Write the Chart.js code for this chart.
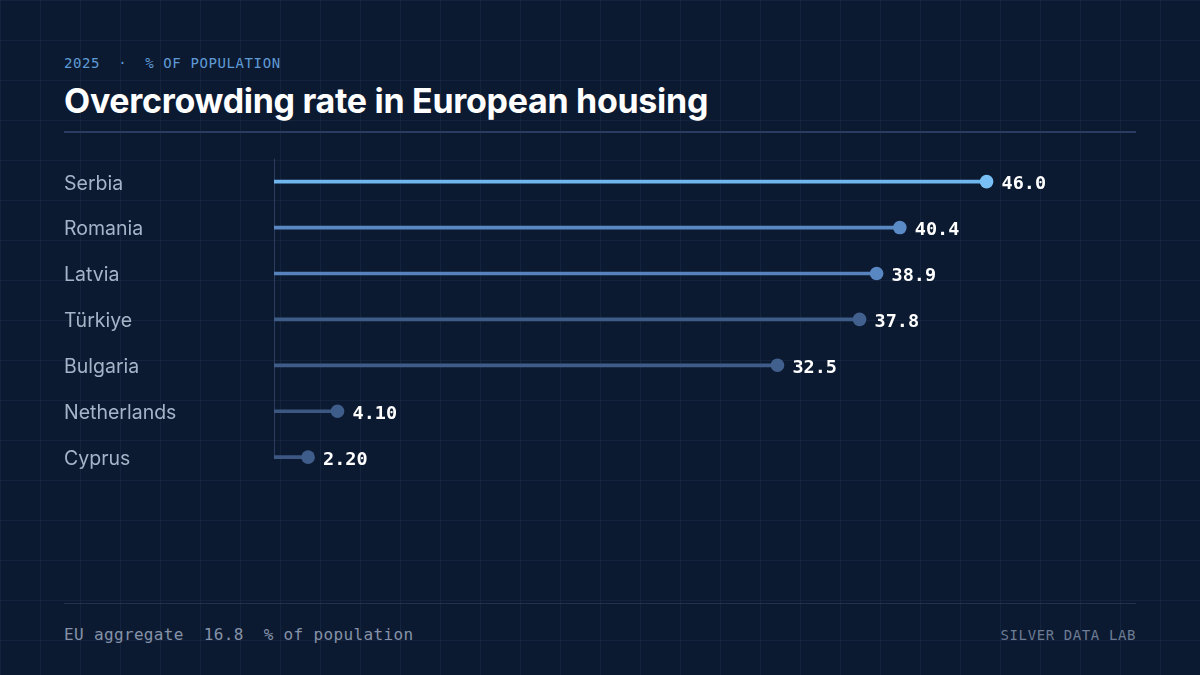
<!DOCTYPE html>
<html>
<head>
<meta charset="utf-8">
<script src="https://cdn.jsdelivr.net/npm/chart.js@4.4.1/dist/chart.umd.min.js"></script>
<style>
  html, body { margin: 0; padding: 0; }
  body {
    width: 1200px; height: 675px; overflow: hidden; position: relative;
    background-color: #0c1a31;
    background-image:
      linear-gradient(to right, rgba(40,60,95,0.28) 1px, transparent 1px),
      linear-gradient(to bottom, rgba(40,60,95,0.28) 1px, transparent 1px);
    background-size: 40px 40px;
    background-position: 0px 0px;
  }
  .sub { position: absolute; left: 64px; top: 55px; font: 14px "DejaVu Sans Mono", monospace; letter-spacing: 0.6px; color: #5f9ad6; white-space: pre; }
  .title { position: absolute; left: 64px; top: 80px; font: 700 34px Inter, sans-serif; letter-spacing: -0.3px; color: #ffffff; white-space: nowrap; }
  .rule { position: absolute; left: 64px; width: 1072px; top: 131px; height: 2px; background: #2a3d60; }
  .frule { position: absolute; left: 64px; width: 1072px; top: 603px; height: 1px; background: #22324d; }
  .foot { position: absolute; left: 64px; top: 625px; font: 16px "DejaVu Sans Mono", monospace; letter-spacing: 0.35px; color: #8592a8; white-space: pre; }
  .brand { position: absolute; right: 64px; top: 627px; font: 14px "DejaVu Sans Mono", monospace; letter-spacing: 0.6px; color: #6d7c94; white-space: pre; }
  #wrap { position: absolute; left: 64px; top: 146.6px; width: 1072px; height: 344.8px; }
</style>
</head>
<body>
<div class="sub">2025  ·  % OF POPULATION</div>
<div class="title">Overcrowding rate in European housing</div>
<div class="rule"></div>
<div id="wrap"><canvas id="c"></canvas></div>
<div class="frule"></div>
<div class="foot">EU aggregate  16.8  % of population</div>
<div class="brand">SILVER DATA LAB</div>
<script>
const categories = ["Serbia", "Romania", "Latvia", "Türkiye", "Bulgaria", "Netherlands", "Cyprus"];
const values = [46.0, 40.4, 38.9, 37.8, 32.5, 4.10, 2.20];
const lineColors = ["#6fb6ee", "#5a88c2", "#5683bd", "#3e5c88", "#3e5c88", "#3c5882", "#3c5882"];
const pointColors = ["#78bff5", "#5b8bc6", "#5887c1", "#41608e", "#41608e", "#3f5d8a", "#3f5d8a"];

const valueLabels = {
  id: 'valueLabels',
  afterDatasetsDraw(chart) {
    const ctx = chart.ctx;
    const meta = chart.getDatasetMeta(1);
    ctx.save();
    ctx.font = 'bold 18.5px "DejaVu Sans Mono", monospace';
    ctx.fillStyle = '#ffffff';
    ctx.textAlign = 'left';
    ctx.textBaseline = 'middle';
    meta.data.forEach((pt, i) => {
      ctx.fillText(values[i].toPrecision(3), pt.x + 15, pt.y + 3);
    });
    ctx.restore();
  }
};
const axisLine = {
  id: 'axisLine',
  beforeDatasetsDraw(chart) {
    const ctx = chart.ctx, x = chart.scales.x, y = chart.scales.y;
    const px = Math.round(x.getPixelForValue(0)) + 0.5;
    ctx.save();
    ctx.strokeStyle = '#2c3e5e';
    ctx.lineWidth = 1;
    ctx.beginPath();
    ctx.moveTo(px, chart.chartArea.top);
    ctx.lineTo(px, y.getPixelForValue(categories.length - 1) + 2);
    ctx.stroke();
    ctx.restore();
  }
};

new Chart(document.getElementById('c'), {
  type: 'bar',
  data: {
    labels: categories,
    datasets: [
      { type: 'bar', data: values, backgroundColor: lineColors, barThickness: 3, borderWidth: 0, order: 2 },
      { type: 'line', data: values, indexAxis: 'y', showLine: false, pointRadius: 6.8, pointHoverRadius: 6.8,
        pointBackgroundColor: pointColors, pointBorderWidth: 0, order: 1 }
    ]
  },
  options: {
    indexAxis: 'y',
    responsive: true,
    maintainAspectRatio: false,
    animation: false,
    layout: { padding: { left: 0, right: 10, top: 0, bottom: 0 } },
    plugins: { legend: { display: false }, tooltip: { enabled: false } },
    scales: {
      x: { min: 0, max: 55, display: false, grid: { display: false } },
      y: {
        grid: { display: false },
        border: { display: false },
        ticks: { color: '#a6b4c9', font: { family: 'Inter', size: 19.5, lineHeight: 1.2 }, crossAlign: 'far', padding: 0, labelOffset: 2 },
        afterFit(scale) { scale.width = 210; }
      }
    }
  },
  plugins: [valueLabels, axisLine]
});
</script>
</body>
</html>
